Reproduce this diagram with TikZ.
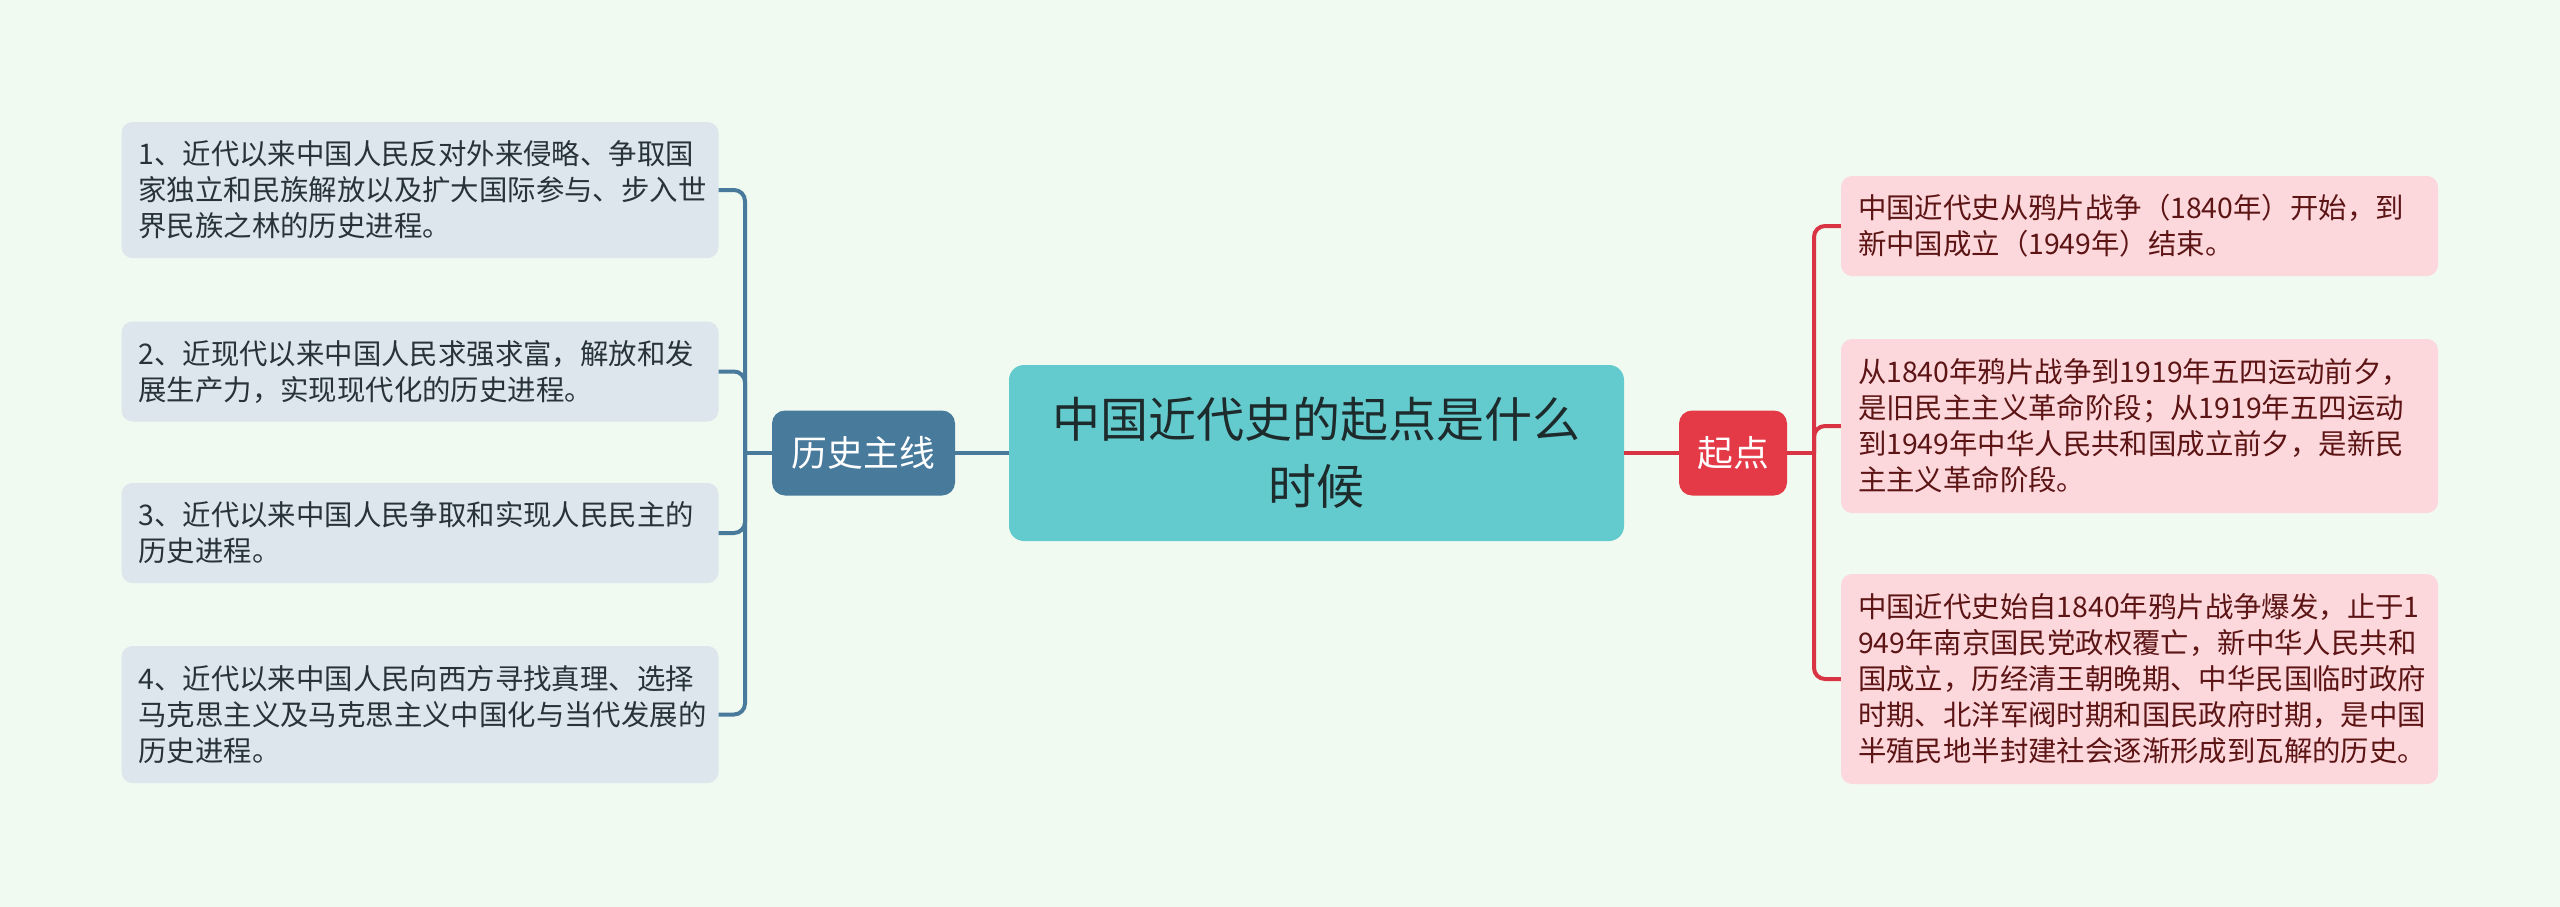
\documentclass[tikz,border=0pt]{standalone}
\usepackage{fontspec}
\setmainfont{Noto Sans CJK SC}
\usepackage{xcolor}
\definecolor{mint}{HTML}{F0FAF0}
\definecolor{histfill}{HTML}{DCE6EC}
\definecolor{histtext}{HTML}{27323B}
\definecolor{histline}{HTML}{4A7A9B}
\definecolor{histmid}{HTML}{487A9C}
\definecolor{topicfill}{HTML}{63CBCE}
\definecolor{topictext}{HTML}{1E2B2C}
\definecolor{startmid}{HTML}{E43A48}
\definecolor{startline}{HTML}{D93444}
\definecolor{startfill}{HTML}{FCD8DC}
\definecolor{starttext}{HTML}{5C1414}
\tikzset{
    leaf/.style={rounded corners=11pt, minimum width=597pt, text width=563pt,
        align=left, inner xsep=17pt, inner ysep=0pt,
        font=\fontsize{28.4}{36}\selectfont},
    histleaf/.style={leaf, fill=histfill, text=histtext},
    startleaf/.style={leaf, fill=startfill, text=starttext},
    midbox/.style={rounded corners=13pt, minimum height=85pt, inner sep=0pt,
        text=white, font=\fontsize{35.8}{40}\selectfont},
    branch/.style={line width=4pt, rounded corners=11pt}
}
\begin{document}
\begin{tikzpicture}[x=1pt,y=-1pt]
            \fill[mint] (0,0) rectangle (2560,907);
            \useasboundingbox (0,0) rectangle (2560,907);

            \node[fill=topicfill, text=topictext, rounded corners=15pt, minimum width=615pt,
                minimum height=176pt, align=center, inner sep=0pt,
                font=\fontsize{48}{67}\selectfont] (topic) at (1316.5,453) {中国近代史的起点是什么\\时候};

            \node[midbox, fill=histmid, minimum width=183pt] (hist) at (863.5,453) {历史主线};
            \node[midbox, fill=startmid, minimum width=108pt] (start) at (1733,453) {起点};

            \node[histleaf, minimum height=136pt] (h1) at (420,190) {1、近代以来中国人民反对外来侵略、争取国\\家独立和民族解放以及扩大国际参与、步入世\\界民族之林的历史进程。};
            \node[histleaf, minimum height=100pt] (h2) at (420,371.5) {2、近现代以来中国人民求强求富，解放和发\\展生产力，实现现代化的历史进程。};
            \node[histleaf, minimum height=100pt] (h3) at (420,533) {3、近代以来中国人民争取和实现人民民主的\\历史进程。};
            \node[histleaf, minimum height=137pt] (h4) at (420,714.5) {4、近代以来中国人民向西方寻找真理、选择\\马克思主义及马克思主义中国化与当代发展的\\历史进程。};

            \node[startleaf, minimum height=100pt] (s1) at (2139.5,226) {中国近代史从鸦片战争（1840年）开始，到\\新中国成立（1949年）结束。};
            \node[startleaf, minimum height=174pt] (s2) at (2139.5,426) {从1840年鸦片战争到1919年五四运动前夕，\\是旧民主主义革命阶段；从1919年五四运动\\到1949年中华人民共和国成立前夕，是新民\\主主义革命阶段。};
            \node[startleaf, minimum height=210pt] (s3) at (2139.5,679) {中国近代史始自1840年鸦片战争爆发，止于1\\949年南京国民党政权覆亡，新中华人民共和\\国成立，历经清王朝晚期、中华民国临时政府\\时期、北洋军阀时期和国民政府时期，是中国\\半殖民地半封建社会逐渐形成到瓦解的历史。};

            \coordinate (histjoin) at (745,453);
            \coordinate (startjoin) at (1814,453);

            \draw[line width=4pt, histline] (topic.west) -- (hist.east);
            \draw[line width=4pt, histline] (hist.west) -- (histjoin);
            \foreach \leaf in {h1,h2,h3,h4} {
                    \draw[branch, histline] (histjoin) |- (\leaf.east);
                }

            \draw[line width=4pt, startline] (topic.east) -- (start.west);
            \draw[line width=4pt, startline] (start.east) -- (startjoin);
            \foreach \leaf in {s1,s2,s3} {
                    \draw[branch, startline] (startjoin) |- (\leaf.west);
                }

        \end{tikzpicture}
\end{document}
